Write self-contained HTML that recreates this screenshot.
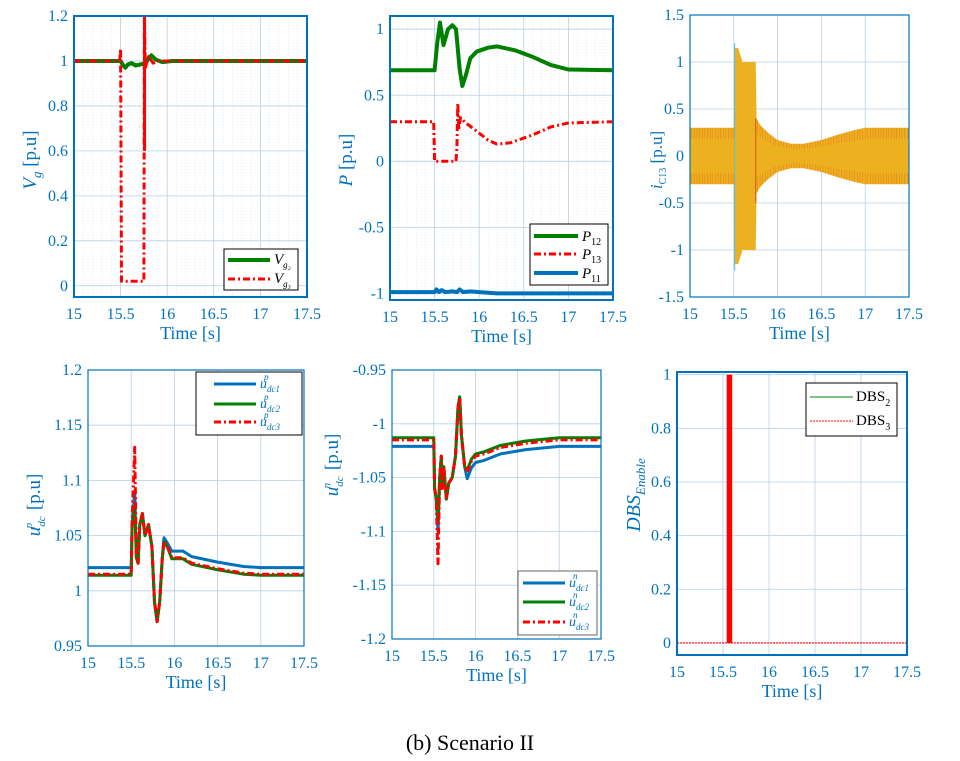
<!DOCTYPE html>
<html><head><meta charset="utf-8">
<style>
html,body{margin:0;padding:0;background:#fff;}
svg{display:block;font-family:"Liberation Serif",serif;}
</style></head>
<body>
<svg id="s" width="960" height="761" viewBox="0 0 960 761" xmlns="http://www.w3.org/2000/svg">
<text x="470" y="750" font-size="22" text-anchor="middle" fill="#000">(b) Scenario II</text>
</svg>
<script>
const S=document.getElementById('s');const NS='http://www.w3.org/2000/svg';
const B='#0072BD';
function el(t,a,txt){const e=document.createElementNS(NS,t);for(const k in a)e.setAttribute(k,a[k]);if(txt!==undefined)e.textContent=txt;S.appendChild(e);return e;}
function panel(o){
 const {x0,y0,x1,y1,ymin,ymax,yt,ylab,minor,bw}=o;
 const X=t=>x0+(t-15)/2.5*(x1-x0), Y=v=>y1-(v-ymin)/(ymax-ymin)*(y1-y0);
 if(minor){for(let t=15.1;t<17.5;t+=0.1){if(Math.abs((t*2)%1)<0.01||Math.abs((t*2)%1-1)<0.01)continue;el('line',{x1:X(t),x2:X(t),y1:y0,y2:y1,stroke:'#c8dcec','stroke-width':0.6,'stroke-dasharray':'1,2'});}}
 for(let t=15.5;t<17.5;t+=0.5)el('line',{x1:X(t),x2:X(t),y1:y0,y2:y1,stroke:'#b5d0e8','stroke-width':0.8});
 yt.forEach(v=>{el('line',{x1:x0,x2:x1,y1:Y(v),y2:Y(v),stroke:'#b5d0e8','stroke-width':0.8});
  el('text',{x:x0-6,y:Y(v)+5,'font-size':16,'text-anchor':'end',fill:B},o.fmt?o.fmt(v):String(v));});
 [15,15.5,16,16.5,17,17.5].forEach(t=>el('text',{x:X(t),y:y1+22,'font-size':16,'text-anchor':'middle',fill:B},String(t)));
 el('text',{x:(x0+x1)/2,y:y1+42,'font-size':18,'text-anchor':'middle',fill:B},'Time [s]');
 return {X,Y,box:()=>el('rect',{x:x0,y:y0,width:x1-x0,height:y1-y0,fill:'none',stroke:B,'stroke-width':bw||1.2})};
}
function line(p,d,c,w,dash){const pts=d.map(q=>p.X(q[0]).toFixed(1)+','+p.Y(q[1]).toFixed(1)).join(' ');const a={points:pts,fill:'none',stroke:c,'stroke-width':w,'stroke-linejoin':'round'};if(dash)a['stroke-dasharray']=dash;el('polyline',a);}
function ylab(x,y,html,size){const t=el('text',{transform:`translate(${x},${y}) rotate(-90)`,'font-size':size||19,'text-anchor':'middle',fill:B});t.innerHTML=html;}
const G='#008000',R='#FF0000',BL='#0072BD',DD='7,3,2,3';

// Panel 1
let p=panel({x0:74,y0:16,x1:307,y1:297,ymin:-0.05,ymax:1.2,yt:[0,0.2,0.4,0.6,0.8,1,1.2],minor:1,bw:2});
line(p,[[15,1],[15.5,1],[15.52,0.985],[15.55,0.97],[15.58,0.985],[15.62,0.99],[15.66,0.98],[15.72,0.985],[15.76,0.99],[15.8,1.01],[15.83,1.025],[15.88,1.005],[15.95,0.995],[16.05,1],[17.5,1]],G,4);
line(p,[[15,1],[15.49,1],[15.5,1.055],[15.51,0.02],[15.75,0.02],[15.755,1.2],[15.765,0.97],[15.8,1.02],[15.85,0.99],[15.9,1.0],[17.5,1]],R,3,DD);
el('line',{x1:p.X(15.757),x2:p.X(15.757),y1:p.Y(1.2),y2:p.Y(0.6),stroke:R,'stroke-width':3});
p.box();
ylab(36,160,'<tspan font-style="italic">V</tspan><tspan font-style="italic" font-size="13" dy="5">g</tspan><tspan dy="-5"> [p.u]</tspan>');
el('rect',{x:224,y:249,width:74,height:41,fill:'#fff',stroke:'#000','stroke-width':1});
el('line',{x1:228,x2:270,y1:260,y2:260,stroke:G,'stroke-width':4});
el('line',{x1:228,x2:270,y1:279,y2:279,stroke:R,'stroke-width':3,'stroke-dasharray':DD});
el('text',{x:274,y:264,'font-size':15,'font-style':'italic'}).innerHTML='V<tspan font-size="9" dy="4">g₂</tspan>';
el('text',{x:274,y:283,'font-size':15,'font-style':'italic'}).innerHTML='V<tspan font-size="9" dy="4">g₃</tspan>';

// Panel 2
p=panel({x0:390,y0:16,x1:613,y1:300,ymin:-1.05,ymax:1.1,yt:[-1,-0.5,0,0.5,1],minor:1,bw:2});
line(p,[[15,0.69],[15.5,0.69],[15.53,0.9],[15.56,1.05],[15.6,0.88],[15.65,1.0],[15.7,1.03],[15.74,1.0],[15.78,0.7],[15.81,0.57],[15.85,0.65],[15.9,0.78],[15.97,0.83],[16.1,0.86],[16.2,0.87],[16.4,0.84],[16.6,0.79],[16.8,0.73],[17,0.695],[17.5,0.69]],G,4);
line(p,[[15,0.3],[15.49,0.3],[15.5,0.0],[15.74,0.0],[15.75,0.1],[15.76,0.44],[15.77,0.24],[15.79,0.33],[15.85,0.29],[15.95,0.24],[16.1,0.16],[16.2,0.13],[16.35,0.14],[16.6,0.2],[16.8,0.26],[17,0.29],[17.5,0.3]],R,3,DD);
line(p,[[15,-0.99],[15.5,-0.99],[15.52,-0.97],[15.55,-0.99],[15.58,-0.975],[15.62,-0.99],[15.7,-0.985],[15.75,-0.99],[15.78,-0.97],[15.82,-0.99],[15.9,-0.985],[16,-0.99],[16.2,-1.0],[17.5,-1.0]],BL,4);
p.box();
ylab(352,160,'<tspan font-style="italic">P</tspan> [p.u]');
el('rect',{x:530,y:224,width:78,height:61,fill:'#fff',stroke:'#000','stroke-width':1});
[[G,236,'12',4,null],[R,254,'13',3,DD],[BL,273,'11',4,null]].forEach(a=>{el('line',{x1:534,x2:578,y1:a[1],y2:a[1],stroke:a[0],'stroke-width':a[3],'stroke-dasharray':a[4]||'none'});el('text',{x:582,y:a[1]+5,'font-size':15}).innerHTML='<tspan font-style="italic">P</tspan><tspan font-size="10" dy="4">'+a[2]+'</tspan>';});

// Panel 3
p=panel({x0:690,y0:15,x1:909,y1:297,ymin:-1.5,ymax:1.5,yt:[-1.5,-1,-0.5,0,0.5,1,1.5],fmt:v=>String(v)});
let env=[[15,0.3],[15.5,0.3],[15.505,1.15],[15.55,1.15],[15.6,1.0],[15.75,1.0],[15.76,0.4],[15.8,0.33],[15.9,0.24],[16,0.17],[16.15,0.13],[16.3,0.13],[16.5,0.17],[16.7,0.23],[16.9,0.28],[17,0.3],[17.5,0.3]];
let poly=env.map(q=>p.X(q[0])+','+p.Y(q[1])).concat(env.slice().reverse().map(q=>p.X(q[0])+','+p.Y(-q[1]))).join(' ');
el('polygon',{points:poly,fill:'#EDB120'});
for(let t=15.02;t<17.5;t+=0.03){if(t>15.5&&t<15.76)continue;let a=0;for(let i=0;i<env.length-1;i++)if(t>=env[i][0]&&t<=env[i+1][0]){a=env[i][1]+(env[i+1][1]-env[i][1])*(t-env[i][0])/(env[i+1][0]-env[i][0]);}
 el('line',{x1:p.X(t),x2:p.X(t),y1:p.Y(a),y2:p.Y(a*0.6),stroke:'#D95319','stroke-width':0.5,opacity:0.6});el('line',{x1:p.X(t),x2:p.X(t),y1:p.Y(-a),y2:p.Y(-a*0.6),stroke:'#D95319','stroke-width':0.5,opacity:0.6});}
el('line',{x1:p.X(15.51),x2:p.X(15.51),y1:p.Y(1.2),y2:p.Y(-1.22),stroke:'#4DBEEE','stroke-width':1});
el('line',{x1:p.X(15.75),x2:p.X(15.75),y1:p.Y(0.4),y2:p.Y(-0.5),stroke:'#D95319','stroke-width':1});
p.box();
ylab(662,160,'<tspan font-style="italic">i</tspan><tspan font-size="10" dy="4">C13</tspan><tspan dy="-4"> [p.u]</tspan>',17);

// Panel 4
p=panel({x0:88,y0:370,x1:304,y1:646,ymin:0.95,ymax:1.2,yt:[0.95,1,1.05,1.1,1.15,1.2],fmt:v=>v.toFixed(v==1?0:(v*10%1==0?1:2))});
function dcp(off,peak){return [[15,1.015+off],[15.5,1.015+off],[15.51,1.06],[15.54,peak],[15.56,1.03],[15.58,1.025],[15.6,1.06],[15.63,1.07],[15.66,1.05],[15.7,1.06],[15.74,1.04],[15.77,0.99],[15.8,0.972],[15.83,0.99],[15.86,1.03],[15.88,1.045+off/2],[15.92,1.04+off/2],[15.97,1.03+off],[16.05,1.03+off],[16.1,1.03+off],[16.2,1.025+off],[16.5,1.02+off],[16.8,1.016+off],[17,1.015+off],[17.5,1.015+off]];}
line(p,dcp(0.006,1.09),BL,3);
line(p,dcp(-0.001,1.075),G,3);
line(p,dcp(0,1.13),R,3,DD);
p.box();
ylab(40,505,'<tspan font-style="italic">u</tspan><tspan font-size="11" dy="5" font-style="italic">dc</tspan><tspan font-size="11" dy="-13" dx="-12" font-style="italic">p</tspan><tspan dy="8" dx="8"> [p.u]</tspan>');
el('rect',{x:196,y:372,width:106,height:63,fill:'#fff',stroke:'#000','stroke-width':1});
[[BL,384,'1',3,null],[G,404,'2',3,null],[R,422,'3',3,DD]].forEach(a=>{el('line',{x1:214,x2:256,y1:a[1],y2:a[1],stroke:a[0],'stroke-width':a[3],'stroke-dasharray':a[4]||'none'});el('text',{x:260,y:a[1]+4,'font-size':14,fill:B,'font-style':'italic'}).innerHTML='u<tspan font-size="9" dy="4">dc'+a[2]+'</tspan><tspan font-size="9" dy="-12" dx="-16">p</tspan>';});

// Panel 5
p=panel({x0:392,y0:370,x1:601,y1:639,ymin:-1.2,ymax:-0.95,yt:[-1.2,-1.15,-1.1,-1.05,-1,-0.95]});
function dcn(off,low){return [[15,-1.015+off],[15.5,-1.015+off],[15.51,-1.06],[15.53,-1.07],[15.55,low],[15.57,-1.05],[15.59,-1.03],[15.6,-1.06],[15.62,-1.04],[15.65,-1.07],[15.68,-1.055],[15.72,-1.05],[15.76,-1.03],[15.79,-0.985],[15.81,-0.975],[15.83,-1.01],[15.87,-1.04],[15.9,-1.045+off],[15.95,-1.035+off],[16.0,-1.03+off],[16.1,-1.028+off],[16.3,-1.022+off],[16.6,-1.018+off],[17,-1.015+off],[17.5,-1.015+off]];}
line(p,dcn(-0.006,-1.1),BL,3);
line(p,dcn(0.002,-1.09),G,3);
line(p,dcn(0,-1.13),R,3,DD);
p.box();
ylab(338,465,'<tspan font-style="italic">u</tspan><tspan font-size="11" dy="5" font-style="italic">dc</tspan><tspan font-size="11" dy="-13" dx="-12" font-style="italic">n</tspan><tspan dy="8" dx="8"> [p.u]</tspan>');
el('rect',{x:518,y:571,width:79,height:64,fill:'#fff',stroke:'#666','stroke-width':1});
[[BL,583,'1',3,null],[G,602,'2',3,null],[R,622,'3',3,DD]].forEach(a=>{el('line',{x1:523,x2:565,y1:a[1],y2:a[1],stroke:a[0],'stroke-width':a[3],'stroke-dasharray':a[4]||'none'});el('text',{x:569,y:a[1]+4,'font-size':14,fill:B,'font-style':'italic'}).innerHTML='u<tspan font-size="9" dy="4">dc'+a[2]+'</tspan><tspan font-size="9" dy="-12" dx="-16">n</tspan>';});

// Panel 6
p=panel({x0:677,y0:372,x1:907,y1:655,ymin:-0.045,ymax:1.01,yt:[0,0.2,0.4,0.6,0.8,1],bw:2});
el('rect',{x:p.X(15.54),y:p.Y(1),width:p.X(15.6)-p.X(15.54),height:p.Y(0)-p.Y(1),fill:R});
el('line',{x1:677,x2:907,y1:p.Y(0),y2:p.Y(0),stroke:R,'stroke-width':1.2,'stroke-dasharray':'2,1'});
p.box();
ylab(640,495,'<tspan font-style="italic">DBS</tspan><tspan font-style="italic" font-size="13" dy="5">Enable</tspan>',20);
el('rect',{x:806,y:383,width:91,height:53,fill:'#fff',stroke:'#000','stroke-width':1});
el('line',{x1:810,x2:853,y1:397,y2:397,stroke:G,'stroke-width':1});
el('line',{x1:810,x2:853,y1:421,y2:421,stroke:R,'stroke-width':1,'stroke-dasharray':'2,1'});
el('text',{x:856,y:401,'font-size':15}).innerHTML='DBS<tspan font-size="10" dy="5">2</tspan>';
el('text',{x:856,y:425,'font-size':15}).innerHTML='DBS<tspan font-size="10" dy="5">3</tspan>';
</script>
</body></html>
